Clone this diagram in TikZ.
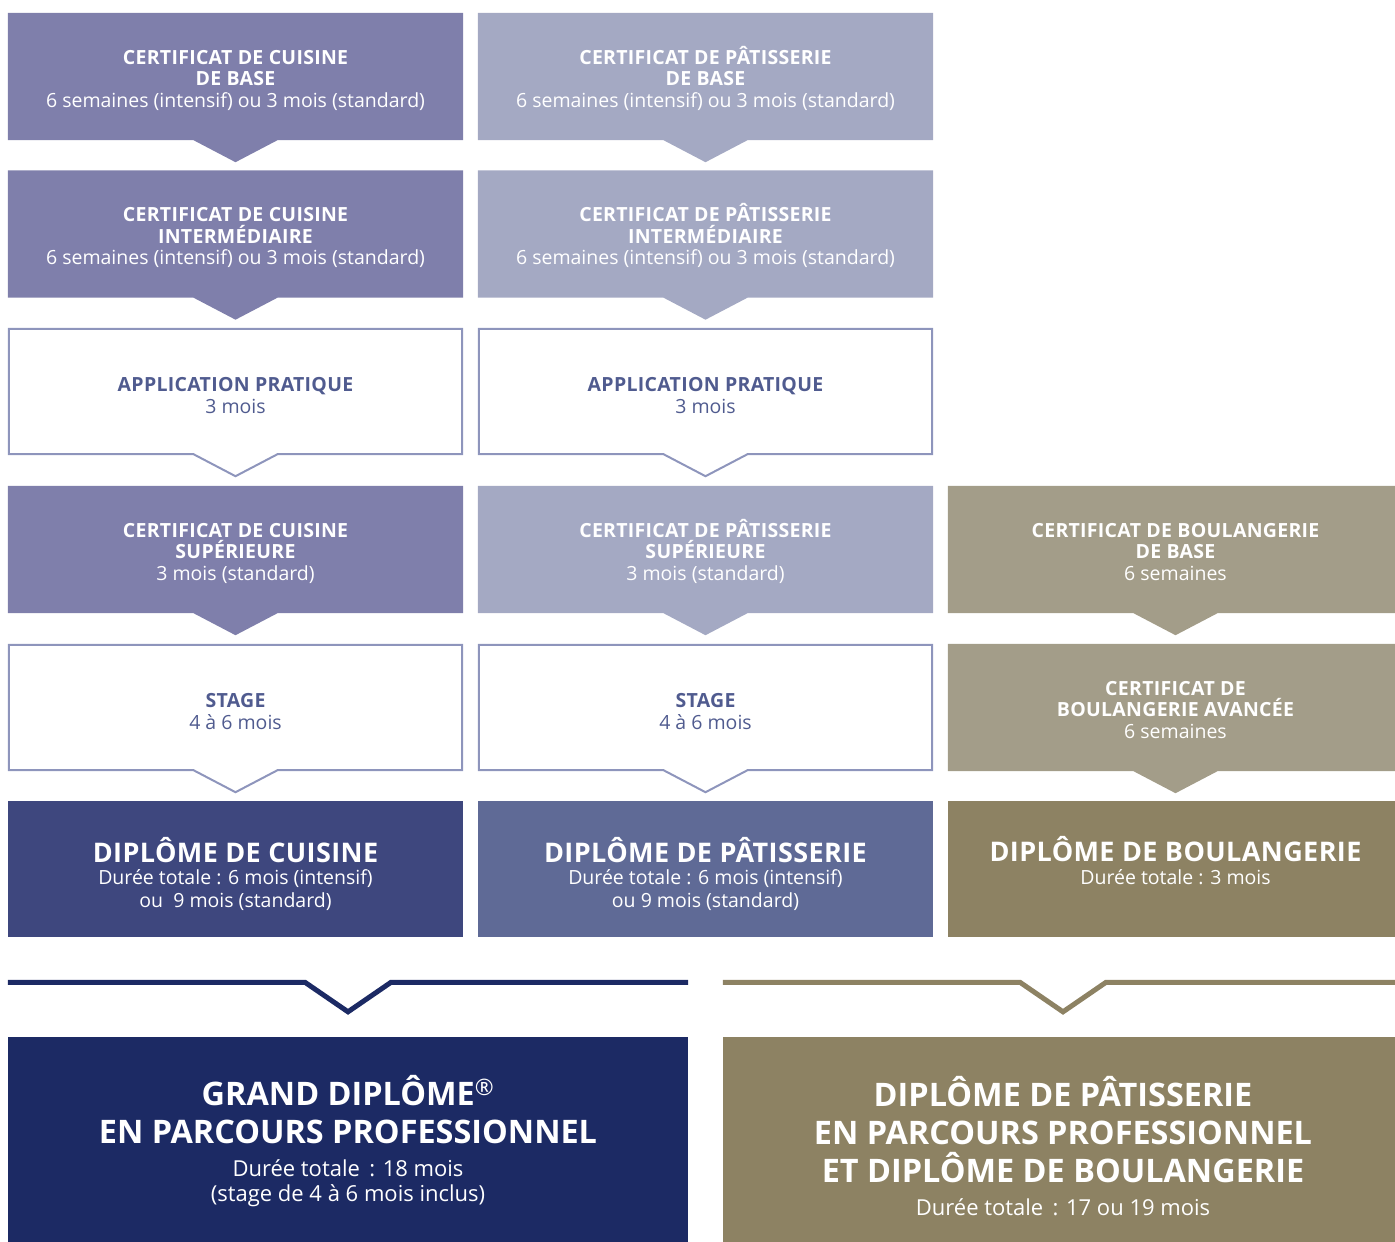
\documentclass[tikz,border=0pt]{standalone}
\usepackage{fontspec}
\setmainfont{Open Sans}
\newfontfamily\capsfont[LetterSpace=1.5]{Open Sans}
\usetikzlibrary{positioning, backgrounds}

\definecolor{cuisine}{HTML}{7F7FAB}
\definecolor{patisserie}{HTML}{A4A9C3}
\definecolor{boulangerie}{HTML}{A39D89}
\definecolor{cuisinedip}{HTML}{3E477E}
\definecolor{patisseriedip}{HTML}{5F6A96}
\definecolor{boulangeriedip}{HTML}{8D8263}
\definecolor{navy}{HTML}{1C2A64}
\definecolor{outline}{HTML}{8E95BC}
\definecolor{holtext}{HTML}{505B8F}

% last line of a node sits on its baseline, so text height places the block
\tikzset{cert/.style={minimum width=455pt, inner sep=0pt, text height=94pt, text depth=33pt, align=center, text=white, font=\fontsize{19.5}{21.5}\selectfont},
         hollow/.style={cert, minimum width=453pt, text height=84pt, text depth=41pt, text=holtext},
         diploma/.style 2 args={minimum width=455pt, inner sep=0pt, text height=#1, text depth=#2, align=center, text=white, font=\fontsize{19.5}{22.5}\selectfont},
         finalbox/.style 2 args={minimum width=680pt, inner sep=0pt, text height=#1, text depth=#2, align=center, text=white, font=\fontsize{22}{38}\selectfont},
         bracket/.style={line width=5pt, miter limit=10},
        }

% box with a notch pointing down to the next step
\newcommand{\tagbox}[2]{%
  \path[#2] (#1.north west) -- (#1.north east) -- (#1.south east)
    -- ([xshift=42pt]#1.south) -- ([yshift=-22pt]#1.south)
    -- ([xshift=-42pt]#1.south) -- (#1.south west) -- cycle;}
\newcommand{\hd}[1]{{\capsfont\bfseries #1}}
\newcommand{\dtitle}[1]{{\fontsize{27}{22.5}\capsfont\bfseries #1}}
\newcommand{\gtitle}[1]{{\fontsize{32.4}{38}\selectfont\bfseries #1}}

\begin{document}
\begin{tikzpicture}[x=1pt, y=-1pt]
        \useasboundingbox (0,0) rectangle (1395,1242);
        \clip (0,0) rectangle (1395,1242);

        % cuisine
        \node[cert](cb)at(235.5,76.5){\hd{CERTIFICAT DE CUISINE}\\\hd{DE BASE}\\6 semaines (intensif) ou 3 mois (standard)};
        \node[cert](ci)at(235.5,234){\hd{CERTIFICAT DE CUISINE}\\\hd{INTERMÉDIAIRE}\\6 semaines (intensif) ou 3 mois (standard)};
        \node[hollow](ca)at(235.5,391.5){\hd{APPLICATION PRATIQUE}\\3 mois};
        \node[cert](cs)at(235.5,549.5){\hd{CERTIFICAT DE CUISINE}\\\hd{SUPÉRIEURE}\\3 mois (standard)};
        \node[hollow](cst)at(235.5,707.5){\hd{STAGE}\\4 à 6 mois};
        \node[diploma={106pt}{30pt}, fill=cuisinedip](cd)at(235.5,869){\dtitle{DIPLÔME DE CUISINE}\\Durée totale : 6 mois (intensif)\\ou\ \ 9 mois (standard)};

        % patisserie
        \node[cert](pb)at(705.5,76.5){\hd{CERTIFICAT DE PÂTISSERIE}\\\hd{DE BASE}\\6 semaines (intensif) ou 3 mois (standard)};
        \node[cert](pi)at(705.5,234){\hd{CERTIFICAT DE PÂTISSERIE}\\\hd{INTERMÉDIAIRE}\\6 semaines (intensif) ou 3 mois (standard)};
        \node[hollow](pa)at(705.5,391.5){\hd{APPLICATION PRATIQUE}\\3 mois};
        \node[cert](ps)at(705.5,549.5){\hd{CERTIFICAT DE PÂTISSERIE}\\\hd{SUPÉRIEURE}\\3 mois (standard)};
        \node[hollow](pst)at(705.5,707.5){\hd{STAGE}\\4 à 6 mois};
        \node[diploma={106pt}{30pt}, fill=patisseriedip](pd)at(705.5,869){\dtitle{DIPLÔME DE PÂTISSERIE}\\Durée totale : 6 mois (intensif)\\ou 9 mois (standard)};

        % boulangerie
        \node[cert](bb)at(1175.5,549.5){\hd{CERTIFICAT DE BOULANGERIE}\\\hd{DE BASE}\\6 semaines};
        \node[cert](ba)at(1175.5,707.5){\hd{CERTIFICAT DE}\\\hd{BOULANGERIE AVANCÉE}\\6 semaines};
        \node[diploma={83pt}{53pt}, fill=boulangeriedip](bd)at(1175.5,869){\dtitle{DIPLÔME DE BOULANGERIE}\\Durée totale : 3 mois};

        \begin{scope}[on background layer]
        \foreach \n in {cb,ci,cs} {\tagbox{\n}{fill=cuisine}}
        \foreach \n in {pb,pi,ps} {\tagbox{\n}{fill=patisserie}}
        \foreach \n in {bb,ba} {\tagbox{\n}{fill=boulangerie}}
        \foreach \n in {ca,cst,pa,pst} {\tagbox{\n}{draw=outline, line width=2pt}}
        \end{scope}

        % final programmes
        \node[finalbox={164pt}{66pt}, fill=navy](gd)at(348,1152){\gtitle{GRAND DIPLÔME\textsuperscript{\normalfont ®}}\\\gtitle{EN PARCOURS PROFESSIONNEL}\\[-5pt]Durée totale \,: 18 mois\\[-13pt](stage de 4 à 6 mois inclus)};
        \node[finalbox={178pt}{52pt}, fill=boulangeriedip](gp)at(1063,1152){\gtitle{DIPLÔME DE PÂTISSERIE}\\\gtitle{EN PARCOURS PROFESSIONNEL}\\\gtitle{ET DIPLÔME DE BOULANGERIE}\\[-5pt]Durée totale \,: 17 ou 19 mois};

        \draw[bracket, navy]([yshift=54.5pt]gd.north west) -- ([xshift=-43pt,yshift=54.5pt]gd.north)
            -- ([yshift=25pt]gd.north) -- ([xshift=43pt,yshift=54.5pt]gd.north) -- ([yshift=54.5pt]gd.north east);
        \draw[bracket, boulangeriedip]([yshift=54.5pt]gp.north west) -- ([xshift=-43pt,yshift=54.5pt]gp.north)
            -- ([yshift=25pt]gp.north) -- ([xshift=43pt,yshift=54.5pt]gp.north) -- ([yshift=54.5pt]gp.north east);
\end{tikzpicture}
\end{document}
